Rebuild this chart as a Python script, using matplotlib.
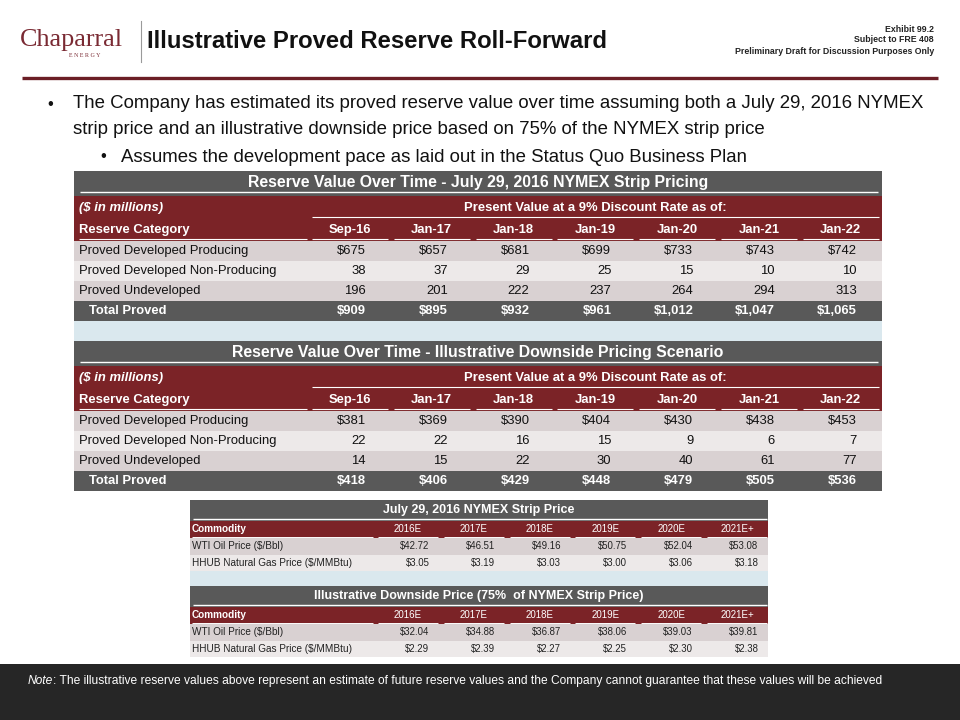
import matplotlib
matplotlib.use("Agg")
import matplotlib.pyplot as plt
from matplotlib.patches import Rectangle
from matplotlib import font_manager

# ---------------- data ----------------
dates = ["Sep-16", "Jan-17", "Jan-18", "Jan-19", "Jan-20", "Jan-21", "Jan-22"]
categories = ["Proved Developed Producing", "Proved Developed Non-Producing", "Proved Undeveloped"]
total_label = "Total Proved"

strip_pdp = [675, 657, 681, 699, 733, 743, 742]
strip_pdnp = [38, 37, 29, 25, 15, 10, 10]
strip_pud = [196, 201, 222, 237, 264, 294, 313]
strip_total = [909, 895, 932, 961, 1012, 1047, 1065]

down_pdp = [381, 369, 390, 404, 430, 438, 453]
down_pdnp = [22, 22, 16, 15, 9, 6, 7]
down_pud = [14, 15, 22, 30, 40, 61, 77]
down_total = [418, 406, 429, 448, 479, 505, 536]

years = ["2016E", "2017E", "2018E", "2019E", "2020E", "2021E+"]
commodities = ["WTI Oil Price ($/Bbl)", "HHUB Natural Gas Price ($/MMBtu)"]
strip_wti = [42.72, 46.51, 49.16, 50.75, 52.04, 53.08]
strip_hhub = [3.05, 3.19, 3.03, 3.00, 3.06, 3.18]
down_wti = [32.04, 34.88, 36.87, 38.06, 39.03, 39.81]
down_hhub = [2.29, 2.39, 2.27, 2.25, 2.30, 2.38]

title = "Illustrative Proved Reserve Roll-Forward"
table_titles = ["Reserve Value Over Time - July 29, 2016 NYMEX Strip Pricing",
                "Reserve Value Over Time - Illustrative Downside Pricing Scenario"]
price_titles = ["July 29, 2016 NYMEX Strip Price",
                "Illustrative Downside Price (75%  of NYMEX Strip Price)"]
bullet1 = ["The Company has estimated its proved reserve value over time assuming both a July 29, 2016 NYMEX",
           "strip price and an illustrative downside price based on 75% of the NYMEX strip price"]
bullet2 = "Assumes the development pace as laid out in the Status Quo Business Plan"
corner = ["Exhibit 99.2", "Subject to FRE 408", "Preliminary Draft for Discussion Purposes Only"]
note = "The illustrative reserve values above represent an estimate of future reserve values and the Company cannot guarantee that these values will be achieved"

# ---------------- style ----------------
avail = {f.name for f in font_manager.fontManager.ttflist}
SANS = "Liberation Sans" if "Liberation Sans" in avail else "DejaVu Sans"
SERIF = "Liberation Serif" if "Liberation Serif" in avail else "DejaVu Serif"
plt.rcParams["font.family"] = SANS

MAROON = "#7B2327"
GRAY = "#595959"
ROW_A = "#D9D1D2"
ROW_B = "#EDE9E9"
BLUE = "#DAE8EE"
RULE = "#6B1E26"
DARK = "#262626"

fig = plt.figure(figsize=(9.6, 7.2), dpi=100)
ax = fig.add_axes([0, 0, 1, 1])
ax.set_xlim(0, 960)
ax.set_ylim(720, 0)
ax.axis("off")


def rect(x0, y0, x1, y1, color):
    ax.add_patch(Rectangle((x0, y0), x1 - x0, y1 - y0, facecolor=color, edgecolor="none", zorder=1))


def hline(x0, x1, y, color="white", lw=0.8):
    ax.plot([x0, x1], [y, y], color=color, lw=lw, solid_capstyle="butt", zorder=2)


# ---------------- header ----------------
ax.text(20, 46, "Chaparral", family=SERIF, fontsize=18.8, color="#7A2A33", va="baseline", ha="left")
ax.text(85, 55.5, "E N E R G Y", family=SERIF, fontsize=4.3, color="#7A2A33", va="center", ha="center")
ax.plot([141, 141], [21, 62], color="#9A9A9A", lw=0.8)
ax.text(147, 41, title, fontsize=17.2, fontweight="bold", color="#111111", va="center", ha="left")
for i, line in enumerate(corner):
    ax.text(934, 29 + i * 11, line, fontsize=6.3, fontweight="bold", color="#222222", va="center", ha="right")
hline(22, 938, 78, color=RULE, lw=2.4)

# bullets
ax.text(47, 104, "•", fontsize=12, color="#111111", va="center", ha="left")
ax.text(73, 104, bullet1[0], fontsize=13.4, color="#111111", va="center", ha="left")
ax.text(73, 129, bullet1[1], fontsize=13.4, color="#111111", va="center", ha="left")
ax.text(100, 157, "•", fontsize=12, color="#111111", va="center", ha="left")
ax.text(121, 157, bullet2, fontsize=13.4, color="#111111", va="center", ha="left")

# ---------------- reserve tables ----------------
TX0, TX1 = 74, 882
CX0, CPITCH, CW = 312, 81.8, 76


def money(v):
    return "${:,}".format(v)


def reserve_table(top, ttl, pdp, pdnp, pud, tot):
    rect(TX0, top, TX1, top + 25, GRAY)
    ax.text((TX0 + TX1) / 2, top + 11.5, ttl, fontsize=11.4, fontweight="bold", color="white",
            va="center", ha="center", zorder=3)
    hline(80, 878, top + 21, lw=1.0)
    rect(TX0, top + 25, TX1, top + 70, MAROON)
    ax.text(79, top + 37, "($ in millions)", fontsize=9.4, fontweight="bold", style="italic",
            color="white", va="center", ha="left", zorder=3)
    cols_l = [CX0 + i * CPITCH for i in range(len(dates))]
    ax.text((cols_l[0] + cols_l[-1] + CW) / 2, top + 37, "Present Value at a 9% Discount Rate as of:",
            fontsize=9.4, fontweight="bold", color="white", va="center", ha="center", zorder=3)
    hline(cols_l[0], cols_l[-1] + CW, top + 46)
    ax.text(79, top + 59, "Reserve Category", fontsize=9.4, fontweight="bold", color="white",
            va="center", ha="left", zorder=3)
    hline(79, 307, top + 68)
    for xl, d in zip(cols_l, dates):
        ax.text(xl + CW / 2, top + 59, d, fontsize=9.4, fontweight="bold", color="white",
                va="center", ha="center", zorder=3)
        hline(xl, xl + CW, top + 68)
    rows = [(categories[0], [money(v) for v in pdp], ROW_A),
            (categories[1], [str(v) for v in pdnp], ROW_B),
            (categories[2], [str(v) for v in pud], ROW_A)]
    for r, (lab, vals, col) in enumerate(rows):
        y0 = top + 70 + r * 20
        rect(TX0, y0, TX1, y0 + 20, col)
        ax.text(79, y0 + 10, lab, fontsize=9.4, color="#111111", va="center", ha="left", zorder=3)
        for xl, v in zip(cols_l, vals):
            ax.text(xl + CW - 22, y0 + 10, v, fontsize=9.4, color="#111111", va="center", ha="right", zorder=3)
    y0 = top + 130
    rect(TX0, y0, TX1, y0 + 20, GRAY)
    ax.text(89, y0 + 10, total_label, fontsize=9.4, fontweight="bold", color="white",
            va="center", ha="left", zorder=3)
    for xl, v in zip(cols_l, tot):
        ax.text(xl + CW - 22, y0 + 10, money(v), fontsize=9.4, fontweight="bold", color="white",
                va="center", ha="right", zorder=3)


reserve_table(171, table_titles[0], strip_pdp, strip_pdnp, strip_pud, strip_total)
rect(TX0, 321, TX1, 341, BLUE)
reserve_table(341, table_titles[1], down_pdp, down_pdnp, down_pud, down_total)

# ---------------- price tables ----------------
PX0, PX1 = 190, 768
PC0, PPITCH, PW = 378, 65.8, 60


def price_table(top, ttl, wti, hhub):
    rect(PX0, top, PX1, top + 21, GRAY)
    ax.text((PX0 + PX1) / 2, top + 10, ttl, fontsize=9.0, fontweight="bold", color="white",
            va="center", ha="center", zorder=3)
    hline(193, 767, top + 18.5, lw=1.0)
    rect(PX0, top + 21, PX1, top + 38, MAROON)
    ax.text(192, top + 29, "Commodity", fontsize=7.2, fontweight="bold", color="white",
            va="center", ha="left", zorder=3)
    hline(192, 373, top + 36.5, lw=0.7)
    cols_l = [PC0 + i * PPITCH for i in range(len(years))]
    for xl, yv in zip(cols_l, years):
        ax.text(xl + PW / 2, top + 29, yv, fontsize=7.0, color="white", va="center", ha="center", zorder=3)
        hline(xl, xl + PW, top + 36.5, lw=0.7)
    for r, (lab, vals, col) in enumerate([(commodities[0], wti, ROW_A), (commodities[1], hhub, ROW_B)]):
        y0 = top + 38 + r * 16.5
        rect(PX0, y0, PX1, y0 + 16.5, col)
        ax.text(192, y0 + 8.2, lab, fontsize=7.2, color="#222222", va="center", ha="left", zorder=3)
        for xl, v in zip(cols_l, vals):
            ax.text(xl + PW - 8.5, y0 + 8.2, "${:.2f}".format(v), fontsize=6.9, color="#222222",
                    va="center", ha="right", zorder=3)


price_table(500, price_titles[0], strip_wti, strip_hhub)
rect(PX0, 571, PX1, 586, BLUE)
price_table(586, price_titles[1], down_wti, down_hhub)

# ---------------- footer ----------------
rect(0, 664, 960, 720, DARK)
t = ax.text(28, 681, "Note", fontsize=8.65, style="italic", color="white", va="center", ha="left")
ax.annotate(": " + note, xycoords=t, xy=(1, 0.5), va="center", ha="left",
            fontsize=8.65, color="white", annotation_clip=False)

fig.savefig("out.png", dpi=100, facecolor="white")
